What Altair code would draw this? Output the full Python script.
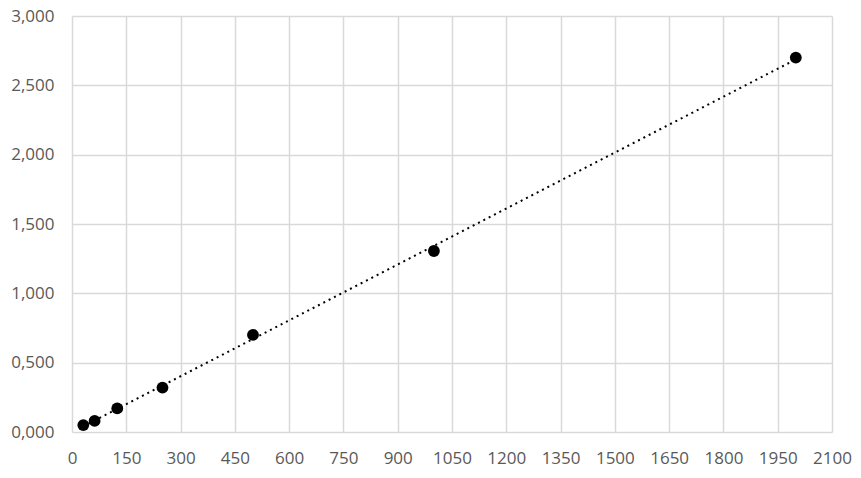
import altair as alt
import pandas as pd

conc = [31.25, 62.5, 125, 250, 500, 1000, 2000]
absorb = [0.05, 0.08, 0.17, 0.32, 0.70, 1.305, 2.70]
x_ticks = list(range(0, 2101, 150))
y_ticks = [0, 0.5, 1.0, 1.5, 2.0, 2.5, 3.0]

df = pd.DataFrame({"x": conc, "y": absorb})

xenc = alt.X("x:Q", scale=alt.Scale(domain=[0, 2100], nice=False, zero=True),
             axis=alt.Axis(values=x_ticks, format="d", title=None, grid=True,
                           gridColor="#d9d9d9", gridWidth=1.5, domain=False, ticks=False,
                           labelPadding=18, labelFontSize=17, labelColor="#595959",
                           labelFont="Open Sans", labelFlush=False))
yenc = alt.Y("y:Q", scale=alt.Scale(domain=[0, 3], nice=False),
             axis=alt.Axis(values=y_ticks, title=None, grid=True,
                           labelExpr="replace(format(datum.value, '.3f'), '.', ',')",
                           gridColor="#d9d9d9", gridWidth=1.5, domain=False, ticks=False,
                           labelPadding=18, labelFontSize=17, labelColor="#595959",
                           labelFont="Open Sans", labelFlush=False))

base = alt.Chart(df)
trend = base.transform_regression("x", "y", method="linear").mark_line(
    color="black", strokeWidth=2, strokeDash=[2, 4]
).encode(x=xenc, y=yenc)
pts = base.mark_circle(color="black", size=140, opacity=1).encode(x=xenc, y=yenc)

chart = alt.layer(trend, pts).properties(
    width=760, height=416,
    autosize=alt.AutoSizeParams(type="none"),
    padding={"left": 64, "top": 8, "right": 21, "bottom": 40},
    background="white",
).configure_view(stroke=None)

chart.save("out.html", embed_options={"renderer": "svg", "actions": False})
